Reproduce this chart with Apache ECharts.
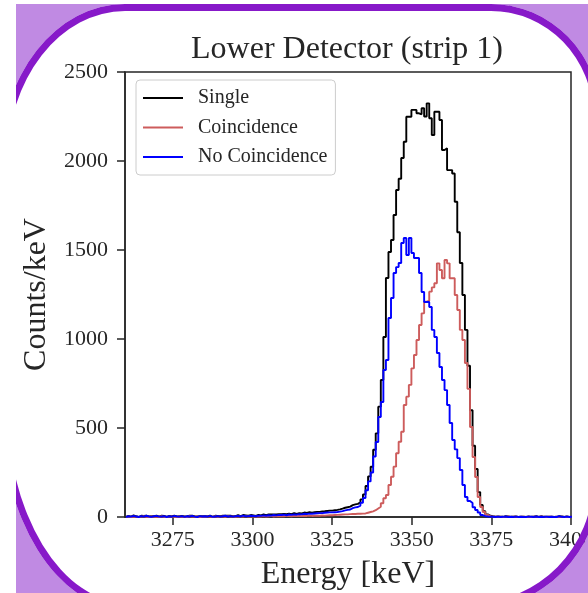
<!DOCTYPE html>
<html>
<head>
<meta charset="utf-8">
<script src="https://cdn.jsdelivr.net/npm/echarts@6/dist/echarts.min.js"></script>
<style>
  html, body { margin: 0; padding: 0; background: #ffffff; overflow: hidden; }
  #wrap { position: relative; width: 588px; height: 593px; overflow: hidden; background: #ffffff; }
  #fg { position: absolute; left: 0; top: 0; z-index: 5; pointer-events: none; }
  #chart { position: absolute; left: 0; top: 0; width: 588px; height: 593px; z-index: 1; }
</style>
</head>
<body>
<div id="wrap">
  <div id="chart"></div>
  <svg id="fg" width="588" height="593" viewBox="0 0 588 593" xmlns="http://www.w3.org/2000/svg">
    <defs><clipPath id="clipArea"><rect x="16" y="4" width="572" height="589"/></clipPath></defs>
    <g clip-path="url(#clipArea)">
      <!-- light purple: everything in the photo area outside the card -->
      <path fill="#c08ae3" fill-rule="evenodd" d="M16,4 L588,4 L588,593 L16,593 Z
        M125,4 L491,4 A109,112 0 0 1 600,116 L600,480 A128,130 0 0 1 472,610 L128,610 A128,206 0 0 1 0,404 L0,163 A125,159 0 0 1 125,4 Z"/>
      <!-- dark purple card border -->
      <path fill="#8719c9" fill-rule="evenodd" d="M125,4 L491,4 A109,112 0 0 1 600,116 L600,480 A128,130 0 0 1 472,610 L128,610 A128,206 0 0 1 0,404 L0,163 A125,159 0 0 1 125,4 Z
        M125,11 L491,11 A102,105 0 0 1 593,116 L593,480 A121,123 0 0 1 472,603 L128,603 A121,199 0 0 1 7,404 L7,163 A118,152 0 0 1 125,11 Z"/>
    </g>
  </svg>
</div>
<script>
// ---- data ----
const titleText = 'Lower Detector (strip 1)';
const xName = 'Energy [keV]';
const yName = 'Counts/keV';
const seriesNames = ['Single', 'Coincidence', 'No Coincidence'];
const seriesColors = ['#000000', '#cd5c5c', '#0000ff'];
const binStart = 3260.3;   // keV, left edge of first bin
const binWidth = 0.8;      // keV
const xTicks = [3275, 3300, 3325, 3350, 3375, 3400];
const yTicks = [0, 500, 1000, 1500, 2000, 2500];

const single = [
  6,2,9,4,0,7,6,8,3,4, 5,8,2,7,6,0,6,5,7,3, 5,6,3,4,7,8,3,3,5,5, 5,5,8,1,7,6,4,7,8,8,
  7,5,5,10,5,11,9,7,11,9, 6,12,9,14,10,14,14,14,14,16,
  16,17,16,19,16,22,18,22,20,25, 23,27,24,27,29,29,31,32,34,36,
  36,38,40,43,47,52,55,58,67,71,74,82,99,
  127,174,228,282,378,470,620,770,1011,1343,
  1489,1556,1697,1837,1900,2017,2108,2249,2249,2287,
  2287,2268,2262,2296,2250,2324,2240,2146,2277,2277,
  2230,2062,2071,1949,1949,1930,1771,1600,1427,1247,
  1051,850,600,400,270,140,68,33,15,7,
  4,2,3,2,1,4,3,1,2,3, 0,2,2,0,3,1,2,4,0,4, 1,2,2,2,0,1,4,3,0,3, 0,2
];
const coincidence = [
  2,0,3,1,0,2,4,1,0,3, 1,2,0,4,1,0,2,3,1,0, 3,1,2,0,4,2,1,3,0,2, 1,3,2,0,4,1,2,3,1,5,
  2,3,1,4,2,3,5,2,4,3, 2,4,3,5,3,4,6,3,5,4,
  5,4,6,5,4,7,5,6,5,7, 6,8,6,7,8,7,9,8,9,10,
  10,11,12,13,14,15,15,16,17,17,18,18,19,
  20,24,28,32,38,48,58,77,105,124,
  180,226,283,358,423,479,629,676,742,835,
  910,994,1079,1144,1210,1215,1266,1290,1313,1425,
  1388,1341,1444,1425,1341,1341,1247,1163,1051,994,
  865,720,506,337,225,112,56,28,12,5,
  3,2,1,2,0,1,3,0,2,1, 0,1,2,0,1,0,2,1,0,3, 1,0,2,1,0,1,0,2,0,1, 0,1
];
const noCoincidence = [
  4,2,6,3,0,5,2,7,3,1, 4,6,2,3,5,0,4,2,6,3, 2,5,1,4,3,6,2,0,5,3, 4,2,6,1,3,5,2,4,7,3,
  5,2,4,6,3,8,4,5,7,6, 4,8,6,9,7,10,8,11,9,12,
  11,13,10,14,12,15,13,16,15,18, 17,19,18,20,21,22,22,24,25,26,
  26,27,28,30,33,37,40,42,50,54,56,64,80,
  107,150,200,250,340,421,562,646,826,882,
  1118,1230,1371,1404,1427,1539,1567,1472,1567,1483,
  1455,1455,1371,1264,1208,1208,1180,1051,1011,921,
  843,770,713,629,528,433,380,331,264,180,
  112,90,79,55,39,25,11,5,3,2,
  1,0,2,0,1,3,0,1,0,2, 0,1,0,0,2,1,0,3,0,1, 0,2,0,1,0,0,4,1,0,2, 0,1
];

// ---- build step-histogram points from bins ----
function histPoints(vals) {
  const pts = [[binStart, 0]];
  for (let i = 0; i < vals.length; i++) {
    pts.push([+(binStart + i * binWidth).toFixed(2), vals[i]]);
  }
  const last = binStart + vals.length * binWidth;
  pts.push([+last.toFixed(2), vals[vals.length - 1]]);
  pts.push([+last.toFixed(2), 0]);
  return pts;
}

const FONT = '"Liberation Serif", "DejaVu Serif", serif';
const TXT = '#262626';
const plain = v => String(v);
const chart = echarts.init(document.getElementById('chart'), null, { renderer: 'canvas' });
const allSeries = [single, coincidence, noCoincidence].map((vals, i) => ({
  name: seriesNames[i],
  type: 'line',
  step: 'end',
  symbol: 'none',
  clip: true,
  silent: true,
  data: histPoints(vals),
  lineStyle: { color: seriesColors[i], width: 1.9 },
  itemStyle: { color: seriesColors[i] },
  z: 3 + i
}));

chart.setOption({
  animation: false,
  backgroundColor: 'transparent',
  title: {
    text: titleText,
    left: 347, top: 34, textAlign: 'center', padding: 0,
    textStyle: { fontFamily: FONT, fontSize: 32, fontWeight: 'normal', color: TXT }
  },
  legend: {
    orient: 'vertical', left: 136, top: 80,
    padding: [8, 8, 8, 7], itemGap: 9.5,
    icon: 'rect', itemWidth: 40, itemHeight: 2,
    backgroundColor: '#ffffff', borderColor: '#cccccc', borderWidth: 1, borderRadius: 4,
    textStyle: { fontFamily: FONT, fontSize: 20, color: TXT, padding: [0, 0, 0, 10] },
    data: seriesNames
  },
  grid: { left: 125, right: 17, top: 72, bottom: 76, containLabel: false, outerBoundsMode: 'none',
          show: true, borderColor: TXT, borderWidth: 1.5, backgroundColor: 'transparent' },
  xAxis: {
    type: 'value', min: 3260, max: 3400,
    name: xName, nameLocation: 'middle', nameGap: 42,
    nameTextStyle: { fontFamily: FONT, fontSize: 32, color: TXT },
    axisLine: { show: true, lineStyle: { color: TXT, width: 1.5 } },
    axisTick: { show: true, length: 8, inside: false, customValues: xTicks, lineStyle: { color: TXT, width: 1.5 } },
    axisLabel: { customValues: xTicks, formatter: plain, margin: 12, fontFamily: FONT, fontSize: 22, color: TXT },
    splitLine: { show: false }
  },
  yAxis: {
    type: 'value', min: 0, max: 2500, interval: 500,
    name: yName, nameLocation: 'middle', nameGap: 72,
    nameTextStyle: { fontFamily: FONT, fontSize: 32, color: TXT },
    axisLine: { show: true, lineStyle: { color: TXT, width: 1.5 } },
    axisTick: { show: true, length: 8, inside: false, customValues: yTicks, lineStyle: { color: TXT, width: 1.5 } },
    axisLabel: { customValues: yTicks, formatter: plain, margin: 17, fontFamily: FONT, fontSize: 22, color: TXT },
    splitLine: { show: false }
  },
  series: allSeries
});
</script>
</body>
</html>
